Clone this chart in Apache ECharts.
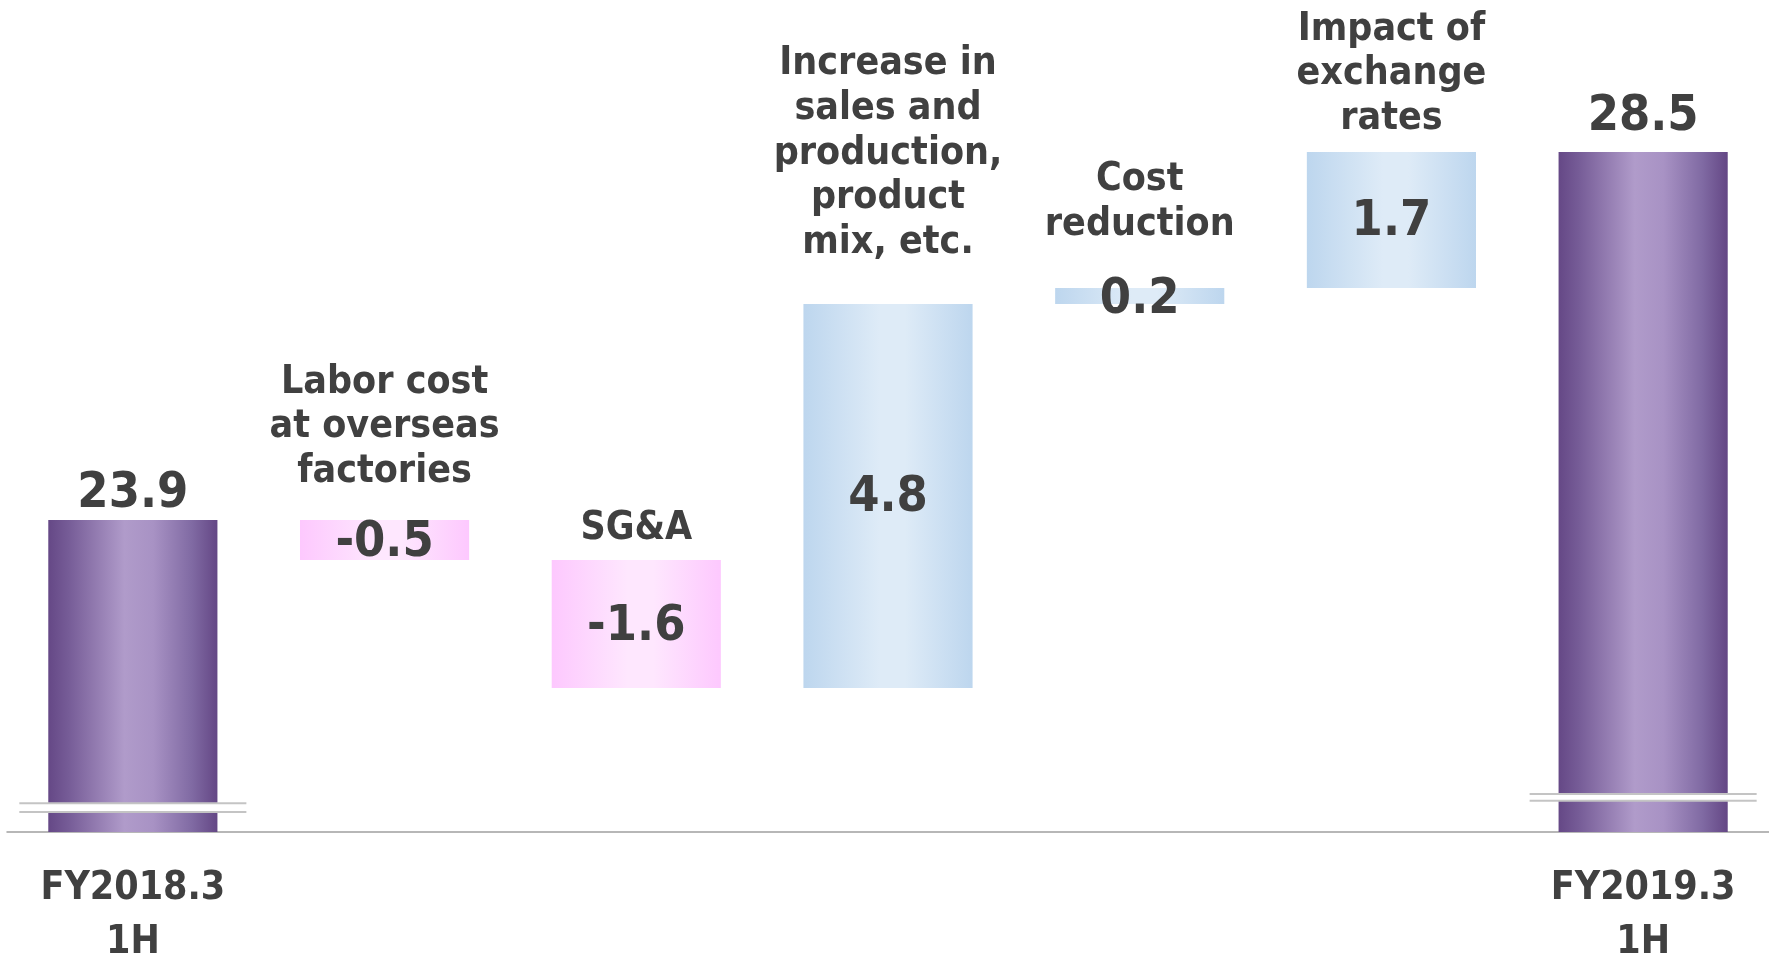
<!DOCTYPE html>
<html>
<head>
<meta charset="utf-8">
<script src="https://cdn.jsdelivr.net/npm/echarts@6/dist/echarts.min.js"></script>
<style>
html,body{margin:0;padding:0;background:#fff;overflow:hidden;}
#chart{width:1769px;height:959px;}
</style>
</head>
<body>
<div id="chart"></div>
<script>
// ---- data ----
const categories = ['FY2018.3\n1H', 'Labor cost\nat overseas\nfactories', 'SG&A',
  'Increase in\nsales and\nproduction,\nproduct\nmix, etc.', 'Cost\nreduction',
  'Impact of\nexchange\nrates', 'FY2019.3\n1H'];
const startValue = 23.9;
const deltas = [-0.5, -1.6, 4.8, 0.2, 1.7];
const endValue = 28.5;
const valueLabels = ['23.9', '-0.5', '-1.6', '4.8', '0.2', '1.7', '28.5'];
const axisMin = 20;
const axisMax = 30;
// axis-break decoration (category index, lower value, upper value)
const breakCats = [0, 6];
const breakLow = [20.25, 20.39];
const breakHigh = [20.36, 20.475];

// ---- layout / style ----
const nameLabelGap = [0, 26, 9, 39, 41, 11, 0];
const totalLabelGap = [26, 0, 0, 0, 0, 0, 35];
const innerLabelShift = [0, 3, 3, 2, 4, 2, 0];
const FONT = '"DejaVu Sans Condensed", "DejaVu Sans", sans-serif';
const TXT = '#404040';

function grad(edge, mid) {
  return new echarts.graphic.LinearGradient(0, 0, 1, 0, [
    {offset: 0, color: edge}, {offset: 0.45, color: mid},
    {offset: 0.6, color: mid}, {offset: 1, color: edge}]);
}
const purple = new echarts.graphic.LinearGradient(0, 0, 1, 0, [
  {offset: 0, color: '#654886'}, {offset: 0.12, color: '#765c97'},
  {offset: 0.45, color: '#b09bca'}, {offset: 0.62, color: '#a892c4'},
  {offset: 0.85, color: '#806aa3'}, {offset: 1, color: '#644785'}]);
const pink = grad('#fdc8fe', '#fee7fe');
const blue = grad('#bdd6ee', '#deebf7');

// build bar ranges [cat, low, high, kind]
const barData = [];
barData.push([0, axisMin, startValue, 0]);
let run = startValue;
deltas.forEach((d, i) => {
  const next = run + d;
  barData.push([i + 1, Math.min(run, next), Math.max(run, next), d < 0 ? 1 : 2]);
  run = next;
});
barData.push([categories.length - 1, axisMin, endValue, 0]);

const breakData = breakCats.map((c, i) => [c, breakLow[i], breakHigh[i]]);

const chart = echarts.init(document.getElementById('chart'), null, {renderer: 'canvas'});
chart.setOption({
  animation: false,
  backgroundColor: '#ffffff',
  grid: {left: 7, right: 0, top: 32, bottom: 127, containLabel: false, outerBoundsMode: 'none'},
  xAxis: {
    type: 'category',
    data: categories,
    axisLine: {lineStyle: {color: '#a0a0a0', width: 1.5}},
    axisTick: {show: false},
    axisLabel: {
      interval: 0,
      margin: 30,
      color: TXT,
      fontFamily: FONT,
      fontWeight: 'bold',
      fontSize: 39,
      lineHeight: 54,
      formatter: (v, idx) => (idx === 0 || idx === categories.length - 1) ? v : ''
    }
  },
  yAxis: {
    type: 'value', min: axisMin, max: axisMax,
    show: false, splitLine: {show: false}
  },
  series: [{
    type: 'custom',
    data: barData,
    renderItem: function (params, api) {
      const cat = api.value(0), lo = api.value(1), hi = api.value(2), kind = api.value(3);
      const pTop = api.coord([cat, hi]);
      const pBot = api.coord([cat, lo]);
      const w = api.size([1, 0])[0] * 0.672;
      const fill = kind === 0 ? purple : (kind === 1 ? pink : blue);
      const children = [{
        type: 'rect',
        shape: {x: pTop[0] - w / 2, y: pTop[1], width: w, height: pBot[1] - pTop[1]},
        style: {fill: fill}
      }];
      const idx = params.dataIndex;
      if (kind === 0) {
        children.push({
          type: 'text', z2: 10,
          x: pTop[0], y: pTop[1] - totalLabelGap[idx],
          style: {text: valueLabels[idx], fill: TXT, font: 'bold 50px ' + FONT,
            align: 'center', verticalAlign: 'middle'}
        });
      } else {
        children.push({
          type: 'text', z2: 10,
          x: pTop[0], y: (pTop[1] + pBot[1]) / 2 + innerLabelShift[idx],
          style: {text: valueLabels[idx], fill: TXT, font: 'bold 50px ' + FONT,
            align: 'center', verticalAlign: 'middle'}
        });
        children.push({
          type: 'text', z2: 10,
          x: pTop[0], y: pTop[1] - nameLabelGap[idx],
          style: {text: categories[idx], fill: TXT, font: 'bold 39px ' + FONT,
            align: 'center', verticalAlign: 'bottom', lineHeight: 44.6}
        });
      }
      return {type: 'group', children: children};
    }
  }, {
    type: 'custom',
    data: breakData,
    z: 5,
    renderItem: function (params, api) {
      const cat = api.value(0);
      const pLo = api.coord([cat, api.value(1)]);
      const pHi = api.coord([cat, api.value(2)]);
      const half = api.size([1, 0])[0] * 0.451;
      const x0 = pLo[0] - half, x1 = pLo[0] + half;
      const ls = {stroke: '#c4c4c4', lineWidth: 2};
      return {type: 'group', children: [
        {type: 'rect', shape: {x: x0, y: pHi[1], width: x1 - x0, height: pLo[1] - pHi[1]},
          style: {fill: '#ffffff'}},
        {type: 'line', shape: {x1: x0, y1: pHi[1], x2: x1, y2: pHi[1]}, style: ls},
        {type: 'line', shape: {x1: x0, y1: pLo[1], x2: x1, y2: pLo[1]}, style: ls}
      ]};
    }
  }]
});
</script>
</body>
</html>
